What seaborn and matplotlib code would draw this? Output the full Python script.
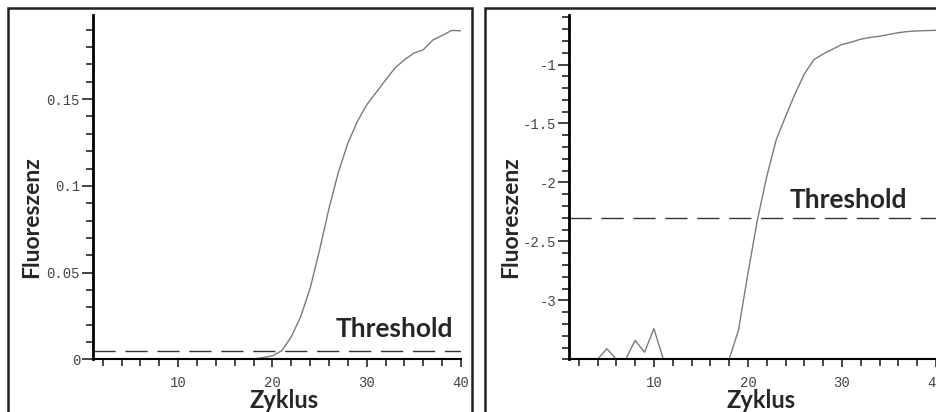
import matplotlib
matplotlib.use("Agg")
import matplotlib.pyplot as plt
import pandas as pd
import seaborn as sns
from matplotlib.patches import Rectangle
from matplotlib.ticker import MultipleLocator, FixedLocator, FuncFormatter

# Daten
zyklus = list(range(1, 41))
fluoreszenz_linear = [
    0, 0, 0, 0, 0.0002, 0, 0, 0.0004, 0, 0.0005,
    0, 0, 0, 0, 0, 0, 0, 0.0002, 0.001, 0.002,
    0.005, 0.013, 0.0246, 0.041, 0.063, 0.087, 0.108, 0.1246, 0.137, 0.1467,
    0.1538, 0.161, 0.168, 0.1727, 0.1765, 0.1785, 0.184, 0.1867, 0.1896, 0.1894,
]
fluoreszenz_log = [
    -3.5, -3.5, -3.5, -3.5, -3.41, -3.5, -3.5, -3.34, -3.44, -3.24,
    -3.5, -3.5, -3.5, -3.5, -3.5, -3.5, -3.5, -3.5, -3.25, -2.77,
    -2.32, -1.95, -1.64, -1.44, -1.25, -1.08, -0.96, -0.91, -0.87, -0.83,
    -0.81, -0.785, -0.77, -0.76, -0.745, -0.73, -0.72, -0.715, -0.712, -0.71,
]
threshold_linear = 0.005
threshold_log = -2.3
yticks_linear = [0, 0.05, 0.1, 0.15]
yticks_log = [-3, -2.5, -2, -1.5, -1]

df = pd.DataFrame({"Zyklus": zyklus, "linear": fluoreszenz_linear, "log": fluoreszenz_log})

sns.set_style("white")
plt.rcParams["font.family"] = ["Lato", "DejaVu Sans"]

W, H = 936, 412
fig = plt.figure(figsize=(W / 100, H / 100), dpi=100)

# Rahmen um die beiden Bilder
fig.add_artist(Rectangle((8 / W, -0.1), (472 - 8) / W, 1.1 - 8 / H,
                         transform=fig.transFigure, fill=False, lw=1.8, ec="#222222"))
fig.add_artist(Rectangle((485 / W, -0.1), 0.6, 1.1 - 8 / H,
                         transform=fig.transFigure, fill=False, lw=1.8, ec="#222222"))

ax1 = fig.add_axes([93.3 / W, 1 - 359.3 / H, (461 - 93.3) / W, (359.3 - 15) / H])
ax2 = fig.add_axes([569.3 / W, 1 - 359.3 / H, (936 - 569.3) / W, (359.3 - 15) / H])

panels = [
    (ax1, "linear", threshold_linear, (0, 0.1985), yticks_linear, 0.01, (32.9, 0.0175),
     -0.1667, 0.5186),
    (ax2, "log", threshold_log, (-3.5, -0.58), yticks_log, 0.1, (30.7, -2.15),
     -0.159, 0.5228),
]

for ax, col, thr, ylim, yticks, ymin, txt_pos, ylab_x, xlab_x in panels:
    ax.set_facecolor("none")
    sns.lineplot(data=df, x="Zyklus", y=col, ax=ax, color="#7a7a7a", lw=1.0)
    ax.axhline(thr, color="#333333", lw=1.0, dashes=(16, 7))
    ax.set_xlim(1, 40)
    ax.set_ylim(*ylim)

    for s in ["top", "right"]:
        ax.spines[s].set_visible(False)
    ax.spines["left"].set_linewidth(2.0)
    ax.spines["bottom"].set_linewidth(1.5)
    ax.spines["left"].set_color("black")
    ax.spines["bottom"].set_color("black")

    ax.xaxis.set_major_locator(MultipleLocator(10))
    ax.xaxis.set_minor_locator(MultipleLocator(2))
    ax.yaxis.set_major_locator(FixedLocator(yticks))
    ax.yaxis.set_minor_locator(MultipleLocator(ymin))
    ax.yaxis.set_major_formatter(FuncFormatter(lambda v, p: "%g" % round(v, 3)))

    ax.tick_params(axis="x", which="major", direction="out", length=6, width=1.2,
                   pad=6, labelsize=10, labelcolor="#444444",
                   labelfontfamily="Liberation Mono", bottom=True)
    ax.tick_params(axis="x", which="minor", direction="out", length=5, width=1.2,
                   bottom=True)
    ax.tick_params(axis="y", which="major", direction="out", length=8, width=1.2,
                   pad=1.5, labelsize=10, labelcolor="#444444",
                   labelfontfamily="Liberation Mono", left=True)
    ax.tick_params(axis="y", which="minor", direction="out", length=5, width=1.2,
                   left=True)

    ax.set_ylabel("Fluoreszenz", fontsize=16.5, fontweight="bold")
    ax.yaxis.set_label_coords(ylab_x, 0.413)
    ax.yaxis.label.set_va("center")
    ax.set_xlabel("Zyklus", fontsize=17, fontweight="bold")
    ax.xaxis.set_label_coords(xlab_x, -0.121)
    ax.xaxis.label.set_va("center")

    ax.text(txt_pos[0], txt_pos[1], "Threshold", fontsize=19, fontweight="bold",
            ha="center", va="center")

fig.savefig("out.png", dpi=100)
plt.close(fig)
